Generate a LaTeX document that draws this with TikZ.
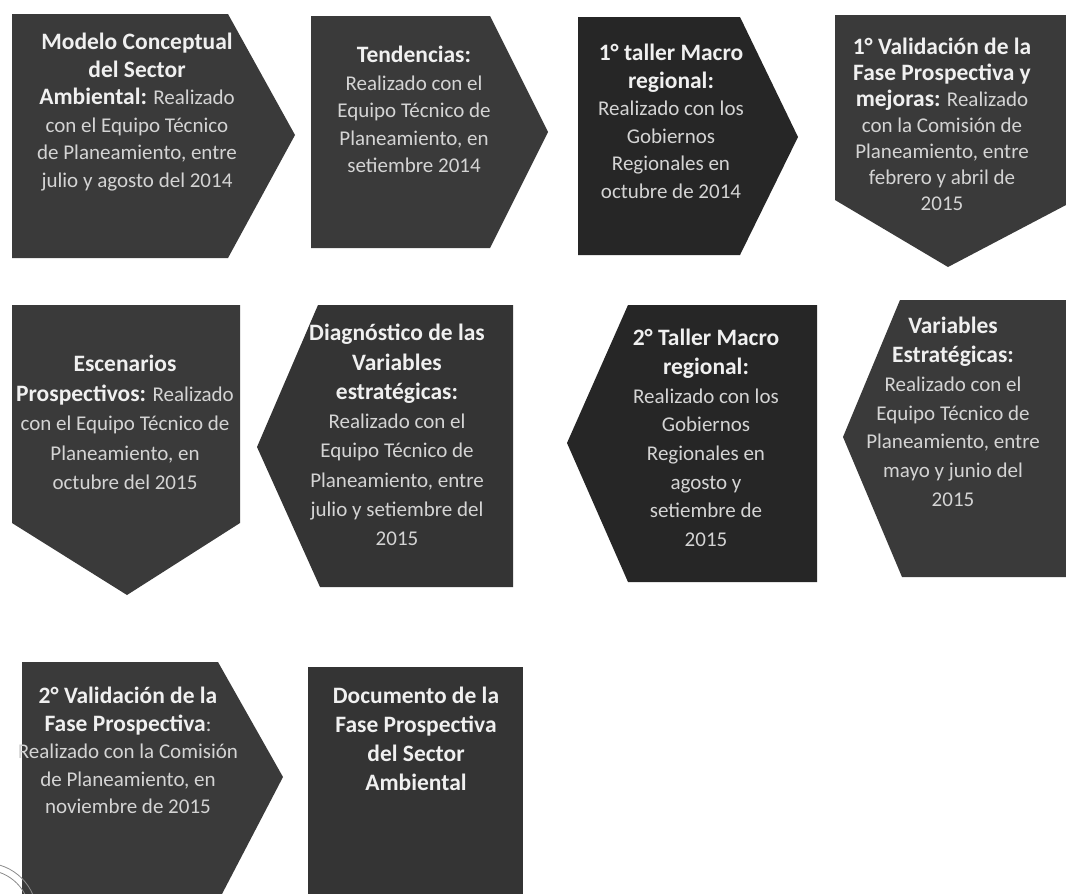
\documentclass[tikz,border=0pt]{standalone}
\usepackage{fontspec}
\setmainfont{Carlito}
\definecolor{boxA}{HTML}{3A3A3A}
\definecolor{boxB}{HTML}{262626}
\definecolor{boxC}{HTML}{343434}
\definecolor{hdc}{HTML}{F0F0F0}
\definecolor{txc}{HTML}{D4D4D4}
\def\bsk{27.5}
\newcommand{\hd}[1]{{\fontsize{23.5}{\bsk}\selectfont\bfseries\color{hdc}#1}}
\begin{document}
\begin{tikzpicture}[x=1pt,y=-1pt,
  lbl/.style={text=txc, align=center, anchor=north, inner sep=0pt,
    font=\def\bsk{#1}\fontsize{21}{#1}\selectfont},
  lbl/.default=27.5,
  stamp/.style={draw=black!45, line width=0.8pt}]
\useasboundingbox[fill=white] (0,0) rectangle (1066,894);
% row 1
\fill[boxA] (12,14) -- (228,14) -- (295,135) -- (228,258) -- (12,258) -- cycle;
\fill[boxA] (311,16) -- (490,16) -- (548,132) -- (490,248) -- (311,248) -- cycle;
\fill[boxB] (578,17) -- (740,17) -- (798,137) -- (740,255) -- (578,255) -- cycle;
\fill[boxA] (835,15) -- (1066,15) -- (1066,205) -- (948,267) -- (835,200) -- cycle;
% row 2
\fill[boxA] (12,305) -- (240,305) -- (240,523) -- (127,595) -- (12,523) -- cycle;
\fill[boxC] (318,305) -- (513,305) -- (513,587) -- (320,587) -- (257,447) -- cycle;
\fill[boxB] (628,305) -- (817,305) -- (817,582) -- (628,582) -- (567,443) -- cycle;
\fill[boxA] (900,300) -- (1066,300) -- (1066,577) -- (902,577) -- (843,437) -- cycle;
% row 3
\fill[boxA] (22,662) -- (218,662) -- (283,777) -- (222,894) -- (22,894) -- cycle;
\fill[boxC] (308,667) -- (523,667) -- (523,894) -- (308,894) -- cycle;
% stamp remnant
\draw[stamp] (-15,915) circle[radius=52];
\draw[stamp] (-15,915) circle[radius=45];

\node[lbl] (t1) at (137,33) {\hd{Modelo Conceptual}\\ \hd{del Sector}\\ \hd{Ambiental:} Realizado\\ con el Equipo Técnico\\ de Planeamiento, entre\\ julio y agosto del 2014};
\node[lbl] (t2) at (414,46) {\hd{Tendencias:}\\ Realizado con el\\ Equipo Técnico de\\ Planeamiento, en\\ setiembre 2014};
\node[lbl] (t3) at (671,44) {\hd{1° taller Macro}\\ \hd{regional:}\\ Realizado con los\\ Gobiernos\\ Regionales en\\ octubre de 2014};
\node[lbl=26] (t4) at (942,38) {\hd{1° Validación de la}\\ \hd{Fase Prospectiva y}\\ \hd{mejoras:} Realizado\\ con la Comisión de\\ Planeamiento, entre\\ febrero y abril de\\ 2015};
\node[lbl=29.5] (t5) at (125,355) {\hd{Escenarios}\\ \hd{Prospectivos:} Realizado\\ con el Equipo Técnico de\\ Planeamiento, en\\ octubre del 2015};
\node[lbl=29.3] (t6) at (397,324) {\hd{Diagnóstico de las}\\ \hd{Variables}\\ \hd{estratégicas:}\\ Realizado con el\\ Equipo Técnico de\\ Planeamiento, entre\\ julio y setiembre del\\ 2015};
\node[lbl=28.7] (t7) at (706,329) {\hd{2° Taller Macro}\\ \hd{regional:}\\ Realizado con los\\ Gobiernos\\ Regionales en\\ agosto y\\ setiembre de\\ 2015};
\node[lbl=28.8] (t8) at (953,317) {\hd{Variables}\\ \hd{Estratégicas:}\\ Realizado con el\\ Equipo Técnico de\\ Planeamiento, entre\\ mayo y junio del\\ 2015};
\node[lbl] (t9) at (128,687) {\hd{2° Validación de la}\\ \hd{Fase Prospectiva}:\\ Realizado con la Comisión\\ de Planeamiento, en\\ noviembre de 2015};
\node[lbl=29] (t10) at (416,687) {\hd{Documento de la}\\ \hd{Fase Prospectiva}\\ \hd{del Sector}\\ \hd{Ambiental}};
\end{tikzpicture}
\end{document}
